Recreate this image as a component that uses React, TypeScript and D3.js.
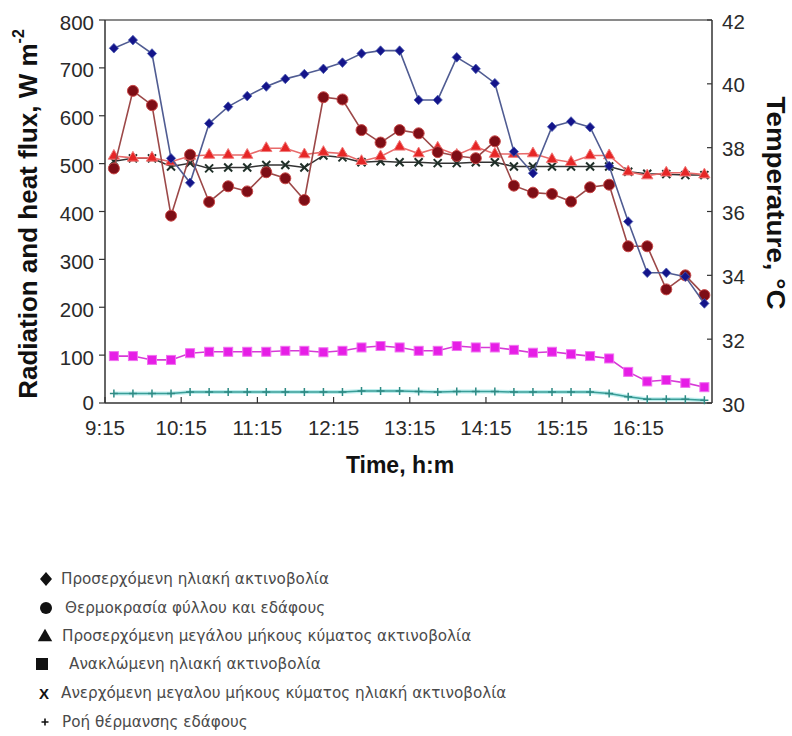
import React from "react";
import * as d3 from "d3";

// Measurement times (h:mm)
const times = [
  "9:22", "9:37", "9:52", "10:07", "10:22", "10:37", "10:52", "11:07",
  "11:22", "11:37", "11:52", "12:07", "12:22", "12:37", "12:52", "13:07",
  "13:22", "13:37", "13:52", "14:07", "14:22", "14:37", "14:52", "15:07",
  "15:22", "15:37", "15:52", "16:07", "16:22", "16:37", "16:52", "17:07",
];

// W m-2 (left axis)
const incomingSolar = [
  741, 758, 730, 511, 460, 584, 619, 641, 661, 677, 687, 698, 711, 730, 736, 736,
  633, 633, 722, 698, 668, 525, 480, 577, 588, 576, 495, 379, 272, 272, 264, 208,
];
const incomingLongwave = [
  516, 512, 512, 504, 516, 518, 518, 518, 532, 532, 519, 524, 521, 505, 515, 535,
  521, 533, 518, 535, 520, 520, 521, 509, 503, 517, 517, 483, 475, 481, 481, 477,
];
const outgoingLongwave = [
  505, 511, 511, 494, 501, 490, 492, 492, 497, 497, 492, 517, 513, 503, 505, 503,
  503, 501, 501, 503, 503, 494, 494, 494, 494, 494, 494, 483, 479, 478, 476, 476,
];
const reflectedSolar = [
  98, 98, 90, 90, 104, 107, 107, 107, 107, 109, 109, 106, 109, 116, 119, 116,
  109, 109, 119, 116, 116, 111, 105, 107, 102, 98, 93, 65, 45, 48, 42, 33,
];
const soilHeatFlux = [
  20, 20, 20, 20, 23, 23, 23, 23, 23, 23, 23, 23, 23, 25, 25, 25,
  24, 23, 24, 24, 24, 23, 23, 23, 23, 23, 20, 13, 8, 8, 8, 6,
];

// °C (right axis)
const surfaceTemp = [
  37.35, 39.78, 39.33, 35.87, 37.78, 36.3, 36.79, 36.63, 37.23, 37.04, 36.36, 39.58,
  39.51, 38.55, 38.16, 38.55, 38.45, 37.86, 37.74, 37.67, 38.2, 36.81, 36.59, 36.55,
  36.31, 36.76, 36.84, 34.91, 34.91, 33.56, 34.0, 33.38,
];

const xTickLabels = ["9:15", "10:15", "11:15", "12:15", "13:15", "14:15", "15:15", "16:15"];
const leftTicks = [0, 100, 200, 300, 400, 500, 600, 700, 800];
const rightTicks = [30, 32, 34, 36, 38, 40, 42];

const legendLabels = [
  "Προσερχόμενη ηλιακή ακτινοβολία",
  "Θερμοκρασία φύλλου και εδάφους",
  "Προσερχόμενη μεγάλου μήκους κύματος ακτινοβολία",
  "Ανακλώμενη ηλιακή ακτινοβολία",
  "Ανερχόμενη μεγαλου μήκους κύματος ηλιακή ακτινοβολία",
  "Ροή θέρμανσης εδάφους",
];

const W = 792;
const H = 736;
const PL = 105;
const PR = 712;
const PT = 20;
const PB = 403;
const FONT = "'Liberation Sans', Arial, sans-serif";
const LEGEND_FONT = "'DejaVu Sans', Verdana, sans-serif";
const TICK_FS = 20.5;

const toMin = (s: string) => {
  const [h, m] = s.split(":").map(Number);
  return h * 60 + m;
};

const x = d3.scaleLinear().domain([toMin("9:15"), toMin("17:13")]).range([PL, PR]);
const yL = d3.scaleLinear().domain([0, 800]).range([PB, PT]);
const yR = d3.scaleLinear().domain([30, 42]).range([PB, PT]);

type Pt = [number, number];
const pts = (vals: number[], y: d3.ScaleLinear<number, number>): Pt[] =>
  vals.map((v, i) => [x(toMin(times[i])), y(v)]);

const line = d3.line<Pt>().x((d) => d[0]).y((d) => d[1]);

const sym = (type: d3.SymbolType, size: number) => d3.symbol().type(type).size(size)() as string;

const diamondPath = (rx: number, ry: number) => `M0,${-ry}L${rx},0L0,${ry}L${-rx},0Z`;
const crossPath = (r: number) => `M${-r},${-r}L${r},${r}M${-r},${r}L${r},${-r}`;
const plusPath = (r: number) => `M${-r},0L${r},0M0,${-r}L0,${r}`;

export default function App() {
  const blue = pts(incomingSolar, yL);
  const tri = pts(incomingLongwave, yL);
  const xs = pts(outgoingLongwave, yL);
  const sq = pts(reflectedSolar, yL);
  const pl = pts(soilHeatFlux, yL);
  const temp = pts(surfaceTemp, yR);

  const legendRows = [579, 608, 636, 664, 693, 722];

  return (
    <svg
      width={W}
      height={H}
      viewBox={`0 0 ${W} ${H}`}
      style={{ position: "absolute", left: 0, top: 0, background: "#fff" }}
      fontFamily={FONT}
    >
      <rect width={W} height={H} fill="#fff" />

      {/* frame */}
      <line x1={PL} x2={PR} y1={PT} y2={PT} stroke="#8a8a8a" strokeWidth={2} />
      <line x1={PL} x2={PL} y1={PT} y2={PB} stroke="#333" strokeWidth={1.5} />
      <line x1={PR} x2={PR} y1={PT} y2={PB} stroke="#333" strokeWidth={1.5} />
      <line x1={PL} x2={PR} y1={PB} y2={PB} stroke="#333" strokeWidth={1.5} />

      {/* left axis */}
      {leftTicks.map((t) => (
        <g key={`l${t}`}>
          <line x1={PL - 6} x2={PL} y1={yL(t)} y2={yL(t)} stroke="#333" strokeWidth={1.2} />
          <text x={PL - 11} y={yL(t) + (t === 0 ? -1 : 2)} textAnchor="end" dominantBaseline="central" fontSize={TICK_FS} fill="#2a2a2a">
            {t}
          </text>
        </g>
      ))}

      {/* right axis */}
      {rightTicks.map((t) => (
        <g key={`r${t}`}>
          <line x1={PR - 5} x2={PR} y1={yR(t)} y2={yR(t)} stroke="#333" strokeWidth={1.2} />
          <text x={PR + 10} y={yR(t) + 1} textAnchor="start" dominantBaseline="central" fontSize={TICK_FS} fill="#2a2a2a">
            {t}
          </text>
        </g>
      ))}

      {/* bottom axis */}
      {xTickLabels.map((lab) => {
        const xx = x(toMin(lab));
        return (
          <g key={lab}>
            <line x1={xx} x2={xx} y1={PB} y2={PB - 6} stroke="#333" strokeWidth={1.2} />
            <text x={xx} y={427} textAnchor="middle" dominantBaseline="central" fontSize={TICK_FS} fill="#2a2a2a">
              {lab}
            </text>
          </g>
        );
      })}

      {/* axis titles */}
      <text x={400} y={465} textAnchor="middle" dominantBaseline="central" fontSize={23} fontWeight="bold" fill="#111">
        Time, h:m
      </text>
      <text
        transform={`translate(28,214) rotate(-90)`}
        textAnchor="middle"
        dominantBaseline="central"
        fontSize={26}
        fontWeight="bold"
        fill="#111"
      >
        Radiation and heat flux, W m
        <tspan fontSize={16} dy={-10}>-2</tspan>
      </text>
      <text
        transform={`translate(776,203) rotate(90)`}
        textAnchor="middle"
        dominantBaseline="central"
        fontSize={26}
        fontWeight="bold"
        fill="#111"
        textLength={213}
        lengthAdjust="spacingAndGlyphs"
      >
        Temperature, °C
      </text>

      {/* soil heat flux */}
      <path d={line(pl) as string} fill="none" stroke="#bfeeee" strokeWidth={4} />
      <path d={line(pl) as string} fill="none" stroke="#3a9e98" strokeWidth={1.5} />
      {pl.map((p, i) => (
        <path key={`pl${i}`} d={plusPath(4)} transform={`translate(${p[0]},${p[1]})`} stroke="#2e8a84" strokeWidth={1.5} />
      ))}

      {/* reflected solar */}
      <path d={line(sq) as string} fill="none" stroke="#d63ad6" strokeWidth={1.6} />
      {sq.map((p, i) => (
        <rect key={`sq${i}`} x={p[0] - 4.5} y={p[1] - 4.5} width={9} height={9} fill="#e61ee6" stroke="#f070f0" strokeWidth={1} />
      ))}

      {/* outgoing longwave */}
      <path d={line(xs) as string} fill="none" stroke="#333" strokeWidth={1.5} />
      {xs.map((p, i) => (
        <path key={`x${i}`} d={crossPath(4)} transform={`translate(${p[0]},${p[1]})`} stroke="#1f2f28" strokeWidth={2} />
      ))}

      {/* incoming longwave */}
      <path d={line(tri) as string} fill="none" stroke="#e86a6a" strokeWidth={1.6} />
      {tri.map((p, i) => (
        <path
          key={`t${i}`}
          d={sym(d3.symbolTriangle, 55)}
          transform={`translate(${p[0]},${p[1]})`}
          fill="#e62626"
          stroke="#f07a7a"
          strokeWidth={1}
        />
      ))}

      {/* leaf and soil temperature */}
      <path d={line(temp) as string} fill="none" stroke="#9c4848" strokeWidth={1.6} />
      {temp.map((p, i) => (
        <circle key={`c${i}`} cx={p[0]} cy={p[1]} r={5.5} fill="#7e0e16" stroke="#c84848" strokeWidth={1} />
      ))}

      {/* incoming solar */}
      <path d={line(blue) as string} fill="none" stroke="#505c92" strokeWidth={1.6} />
      {blue.map((p, i) => (
        <path
          key={`b${i}`}
          d={diamondPath(4.6, 4.8)}
          transform={`translate(${p[0]},${p[1]})`}
          fill="#14148a"
          stroke="#4a5ab0"
          strokeWidth={0.8}
        />
      ))}

      {/* legend */}
      <g fill="#111">
        <path d={diamondPath(6, 7)} transform={`translate(46,${legendRows[0]})`} />
        <circle cx={46} cy={legendRows[1]} r={6} />
        <path d={sym(d3.symbolTriangle, 90)} transform={`translate(45,${legendRows[2] + 1})`} />
        <rect x={36} y={legendRows[3] - 6} width={12} height={12} />
        <text x={44} y={legendRows[4]} textAnchor="middle" dominantBaseline="central" fontSize={15} fontWeight="bold">
          X
        </text>
        <path d={plusPath(3.5)} transform={`translate(45,${legendRows[5]})`} stroke="#111" strokeWidth={1.6} />
      </g>
      {legendLabels.map((lab, i) => (
        <text
          key={lab}
          x={[61, 65, 62, 69, 61, 62][i]}
          y={legendRows[i]}
          dominantBaseline="central"
          fontSize={15.2}
          fontFamily={LEGEND_FONT}
          fill="#4a4a4a"
        >
          {lab}
        </text>
      ))}
    </svg>
  );
}
